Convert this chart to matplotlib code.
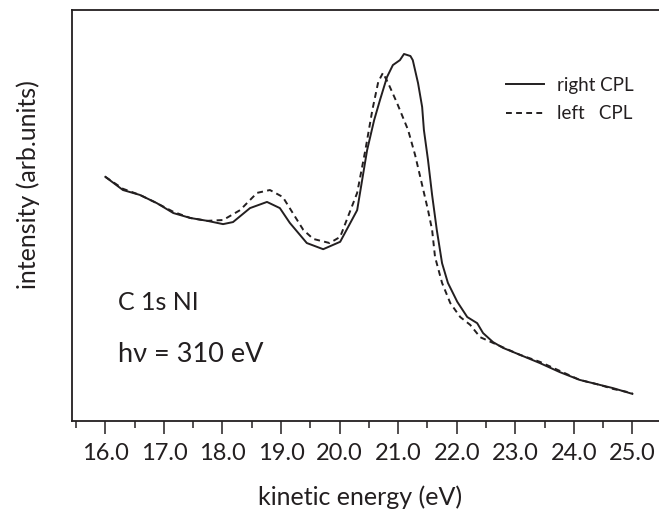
import matplotlib
matplotlib.use("Agg")
import matplotlib.pyplot as plt
from matplotlib.ticker import MultipleLocator, FormatStrFormatter

plt.rcParams['font.family'] = ['Lato', 'DejaVu Sans']

# Right circularly polarized light (solid)
energy_right = [16.0, 16.30, 16.59, 16.88, 17.16, 17.45, 17.74, 18.01, 18.18, 18.47,
                18.76, 18.98, 19.15, 19.44, 19.72, 20.01, 20.30, 20.47, 20.59, 20.69,
                20.81, 20.91, 21.03, 21.10, 21.21, 21.25, 21.34, 21.41, 21.44, 21.51,
                21.58, 21.66, 21.75, 21.85, 22.01, 22.18, 22.35, 22.45, 22.62, 22.79,
                23.08, 23.42, 23.76, 24.10, 24.44, 24.67, 25.0]
intensity_right = [0.594, 0.562, 0.550, 0.530, 0.506, 0.494, 0.487, 0.479, 0.484, 0.518,
                   0.533, 0.518, 0.482, 0.433, 0.418, 0.436, 0.513, 0.659, 0.732, 0.781,
                   0.837, 0.866, 0.878, 0.893, 0.888, 0.878, 0.822, 0.764, 0.708, 0.635,
                   0.550, 0.465, 0.384, 0.336, 0.290, 0.253, 0.238, 0.214, 0.192, 0.178,
                   0.161, 0.141, 0.119, 0.100, 0.088, 0.080, 0.066]

# Left circularly polarized light (dashed)
energy_left = [16.0, 16.30, 16.59, 16.88, 17.16, 17.45, 17.74, 18.01, 18.30, 18.59,
               18.81, 19.03, 19.38, 19.55, 19.83, 20.01, 20.30, 20.44, 20.56, 20.66,
               20.74, 20.83, 20.98, 21.17, 21.29, 21.41, 21.51, 21.58, 21.63, 21.75,
               21.89, 22.06, 22.23, 22.40, 22.62, 23.08, 23.42, 23.76, 24.10, 24.44,
               24.67, 25.0]
intensity_left = [0.594, 0.565, 0.550, 0.530, 0.509, 0.494, 0.487, 0.489, 0.513, 0.555,
                  0.562, 0.545, 0.465, 0.443, 0.433, 0.448, 0.555, 0.659, 0.757, 0.825,
                  0.847, 0.822, 0.774, 0.708, 0.647, 0.574, 0.513, 0.465, 0.399, 0.336,
                  0.287, 0.253, 0.234, 0.204, 0.190, 0.161, 0.144, 0.122, 0.100, 0.088,
                  0.078, 0.068]

xticks = [16, 17, 18, 19, 20, 21, 22, 23, 24, 25]

W, H = 659, 513
fig = plt.figure(figsize=(W / 100, H / 100), dpi=100)
ax = fig.add_axes([72 / W, 1 - 421 / H, 1 - 72 / W, (421 - 10) / H])

ink = '#231f20'
ax.plot(energy_right, intensity_right, color=ink, lw=1.4, label='right CPL')
ax.plot(energy_left, intensity_left, color=ink, lw=1.4, ls=(0, (3, 2.2)), label='left   CPL')

ax.set_xlim(15.43, 25.455)
ax.set_ylim(0, 1)

ax.spines['right'].set_visible(False)
for s in ['left', 'top', 'bottom']:
    ax.spines[s].set_linewidth(1.3)
    ax.spines[s].set_color(ink)

ax.set_yticks([])
ax.set_xticks(xticks)
ax.xaxis.set_minor_locator(MultipleLocator(0.5))
ax.xaxis.set_major_formatter(FormatStrFormatter('%.1f'))
ax.tick_params(axis='x', which='major', direction='out', length=9.5, width=1.1,
               color=ink, pad=6, labelsize=17, labelcolor=ink)
ax.tick_params(axis='x', which='minor', direction='out', length=5, width=1.1, color=ink)

fig.text(360 / W, 1 - 497 / H, 'kinetic energy (eV)', ha='center', va='center',
         fontsize=18, color=ink)
fig.text(28 / W, 1 - 185 / H, 'intensity (arb.units)', ha='center', va='center',
         rotation=90, fontsize=18, color=ink)

fig.text(118 / W, 1 - 302 / H, 'C 1s NI', fontsize=18, color=ink, va='center')
fig.text(118 / W, 1 - 355 / H, 'hν = 310 eV', fontsize=19.5, color=ink, va='center')

leg = ax.legend(loc='upper left', bbox_to_anchor=(506 / W, 1 - 77 / H),
                bbox_transform=fig.transFigure, frameon=False, fontsize=13.5,
                handlelength=2.0, handletextpad=0.7, labelspacing=0.6, borderaxespad=0,
                borderpad=0)
for t in leg.get_texts():
    t.set_color(ink)

fig.savefig('out.png', dpi=100)
